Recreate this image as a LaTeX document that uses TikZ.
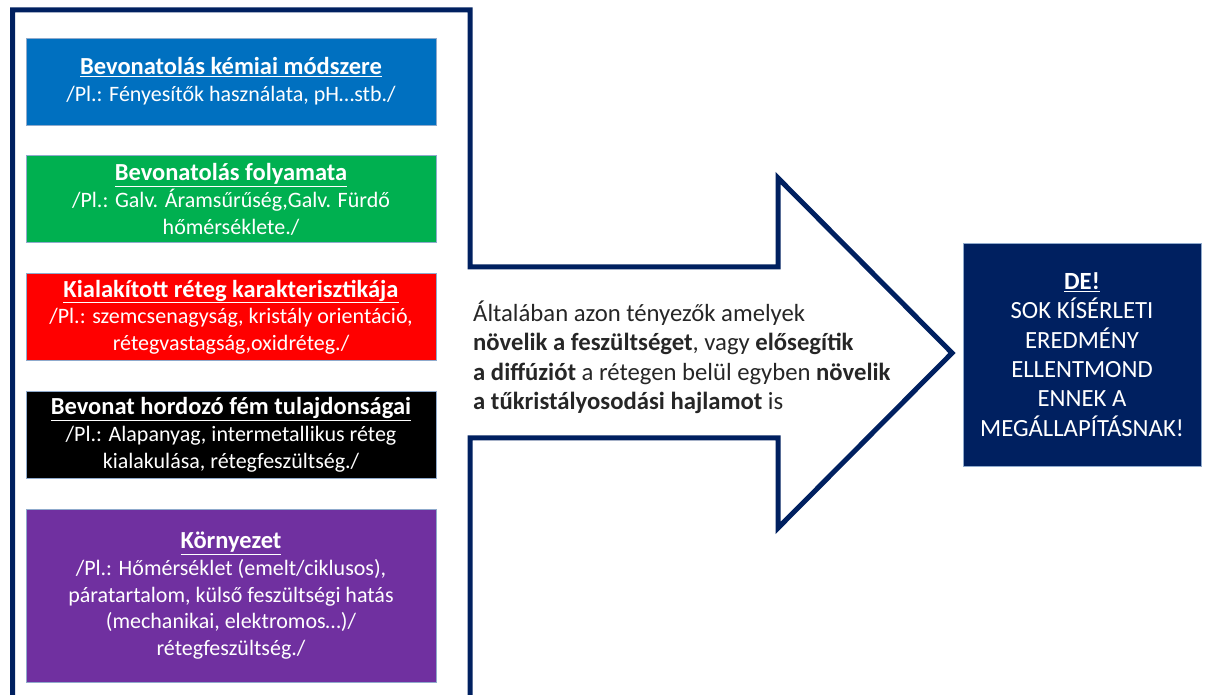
\documentclass[tikz,border=0pt]{standalone}
\usepackage{fontspec}
\setmainfont{Carlito}
\usetikzlibrary{positioning}
\definecolor{navy}{HTML}{002060}
\definecolor{kblue}{HTML}{0070C0}
\definecolor{kgreen}{HTML}{00B050}
\definecolor{kred}{HTML}{FF0000}
\definecolor{kpurple}{HTML}{7030A0}
\definecolor{boxedge}{HTML}{8FAACC}
\newcommand{\boxtitle}[1]{{\fontsize{24.5}{28}\selectfont\textbf{\underline{#1}}}}
\begin{document}
\begin{tikzpicture}[
    x=1pt, y=1pt, node distance=30pt,
    factor/.style={draw=boxedge, line width=0.8pt, text=white,
        align=center, minimum width=410pt, minimum height=87pt,
        inner sep=2pt, font=\fontsize{22}{26.8}\selectfont}
  ]
  \useasboundingbox (0,0) rectangle (1205,694);
  \clip (0,0) rectangle (1205,694);

  % the big arrow, cut off at the bottom
  \draw[navy, line width=5pt, miter limit=10]
    (12.5,-10) -- (12.5,684) -- (470,684) -- (470,427) -- (778,427)
    -- (778,516) -- (952,341) -- (778,166) -- (778,256) -- (470,256)
    -- (470,-10);

  \node[factor, fill=kblue] at (231,612.5) (kemiai)
    {\boxtitle{Bevonatolás kémiai módszere}\\
     /Pl.: Fényesítők használata, pH…stb./};
  \node[factor, fill=kgreen, below=of kemiai] (folyamat)
    {\boxtitle{Bevonatolás folyamata}\\
     /Pl.: Galv. Áramsűrűség,Galv. Fürdő\\ hőmérséklete./};
  \node[factor, fill=kred, below=of folyamat] (reteg)
    {\boxtitle{Kialakított réteg karakterisztikája}\\
     /Pl.: szemcsenagyság, kristály orientáció,\\
     rétegvastagság,oxidréteg./};
  \node[factor, fill=black, below=of reteg] (hordozo)
    {\boxtitle{Bevonat hordozó fém tulajdonságai}\\
     /Pl.: Alapanyag, intermetallikus réteg\\
     kialakulása, rétegfeszültség./};
  \node[factor, fill=kpurple, minimum height=173pt,
        below=of hordozo] (kornyezet)
    {\boxtitle{Környezet}\\
     /Pl.: Hőmérséklet (emelt/ciklusos),\\
     páratartalom, külső feszültségi hatás\\
     (mechanikai, elektromos…)/\\
     rétegfeszültség./};

  \node[anchor=west, inner sep=0pt, align=left, text=black!85,
        font=\fontsize{24.7}{29.5}\selectfont] at (473,336.5) (szoveg)
    {Általában azon tényezők amelyek\\
     \textbf{növelik a feszültséget}, vagy \textbf{elősegítik}\\
     \textbf{a diffúziót} a rétegen belül egyben \textbf{növelik}\\
     \textbf{a tűkristályosodási hajlamot} is};

  \node[draw=boxedge, line width=0.8pt, fill=navy, text=white,
        align=center, minimum width=238pt, minimum height=223pt,
        font=\fontsize{24.7}{29.3}\selectfont] at (1082,339.5) (de)
    {\textbf{\underline{DE!}}\\ SOK KÍSÉRLETI\\ EREDMÉNY\\ ELLENTMOND\\
     ENNEK A\\ MEGÁLLAPÍTÁSNAK!};
\end{tikzpicture}
\end{document}
